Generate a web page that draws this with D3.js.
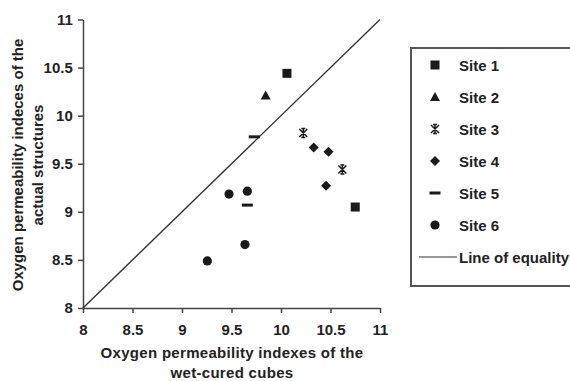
<!DOCTYPE html>
<html><head><meta charset="utf-8">
<script src="https://cdn.jsdelivr.net/npm/d3@7"></script>
<style>body{margin:0;background:#fff}svg{display:block}text{font-family:"Liberation Sans",Arial,sans-serif;font-weight:bold;fill:#222}</style>
</head><body>
<script>
const xTicks = [8, 8.5, 9, 9.5, 10, 10.5, 11];
const yTicks = [8, 8.5, 9, 9.5, 10, 10.5, 11];
const siteNames = ["Site 1","Site 2","Site 3","Site 4","Site 5","Site 6"];
const siteSymbols = ["square","triangle","star","diamond","dash","circle"];
const site1 = [[10.06,10.44],[10.75,9.05]];
const site2 = [[9.845,10.21]];
const site3 = [[10.225,9.82],[10.62,9.44]];
const site4 = [[10.33,9.67],[10.48,9.625],[10.455,9.27]];
const site5 = [[9.73,9.78],[9.66,9.07]];
const site6 = [[9.475,9.185],[9.66,9.215],[9.636,8.66],[9.256,8.49]];
const equality = [[8,8],[11,11]];
const sites = [site1,site2,site3,site4,site5,site6];

const W=570,H=381;
const svg=d3.select("body").append("svg").attr("width",W).attr("height",H);
const x=d3.scaleLinear().domain([8,11]).range([83,380]);
const y=d3.scaleLinear().domain([8,11]).range([308,19.5]);
const ink="#1a1a1a";

function drawSymbol(g,type,cx,cy){
  if(type==="square") g.append("rect").attr("x",cx-4.5).attr("y",cy-4.5).attr("width",9).attr("height",9).attr("fill",ink);
  else if(type==="triangle") g.append("path").attr("d",`M${cx},${cy-5}L${cx+5},${cy+4}L${cx-5},${cy+4}Z`).attr("fill",ink);
  else if(type==="diamond") g.append("path").attr("d",`M${cx},${cy-5}L${cx+5},${cy}L${cx},${cy+5}L${cx-5},${cy}Z`).attr("fill",ink);
  else if(type==="circle") g.append("circle").attr("cx",cx).attr("cy",cy).attr("r",4.6).attr("fill",ink);
  else if(type==="dash") g.append("rect").attr("x",cx-5.5).attr("y",cy-1.5).attr("width",11).attr("height",3).attr("fill",ink);
  else if(type==="star") g.append("path").attr("d",`M${cx-4},${cy-4}L${cx+4},${cy+4}M${cx+4},${cy-4}L${cx-4},${cy+4}M${cx-2},${cy-4.5}L${cx+2},${cy-4.5}M${cx-2},${cy+4.5}L${cx+2},${cy+4.5}M${cx},${cy-4.5}L${cx},${cy+4.5}`).attr("stroke",ink).attr("stroke-width",1.5).attr("fill","none");
}

// axes
const xAxis=d3.axisBottom(x).tickValues(xTicks).tickSize(5).tickSizeOuter(0).tickFormat(d3.format("~g"));
const yAxis=d3.axisLeft(y).tickValues(yTicks).tickSize(5).tickSizeOuter(0).tickFormat(d3.format("~g"));
const gx=svg.append("g").attr("transform","translate(0,308)").call(xAxis);
const gy=svg.append("g").attr("transform","translate(83,0)").call(yAxis);
[gx,gy].forEach(g=>{g.selectAll("path,line").attr("stroke","#444").attr("stroke-width",1.5);
  g.selectAll("text").style("font-size","15px").attr("fill","#222");});
gx.selectAll("text").attr("dy","1.25em");
gy.selectAll("text").attr("dx","-0.15em");

// equality line
svg.append("path").attr("d",d3.line().x(d=>x(d[0])).y(d=>y(d[1]))(equality)).attr("stroke","#333").attr("stroke-width",1.4).attr("fill","none");

// points
sites.forEach((s,i)=>{const g=svg.append("g");s.forEach(p=>drawSymbol(g,siteSymbols[i],x(p[0]),y(p[1])));});

// axis titles
const tfs="15px";
svg.append("text").attr("x",232).attr("y",358).attr("text-anchor","middle").style("font-size",tfs).style("letter-spacing","0.3px").text("Oxygen permeability indexes of the");
svg.append("text").attr("x",232).attr("y",378).attr("text-anchor","middle").style("font-size",tfs).style("letter-spacing","0.3px").text("wet-cured cubes");
svg.append("text").attr("transform","translate(23,165) rotate(-90)").attr("text-anchor","middle").style("font-size",tfs).text("Oxygen permeability indeces of the");
svg.append("text").attr("transform","translate(43,165) rotate(-90)").attr("text-anchor","middle").style("font-size",tfs).text("actual structures");

// legend
const lg=svg.append("g");
lg.append("rect").attr("x",411).attr("y",48).attr("width",170).attr("height",238).attr("fill","#fff").attr("stroke","#555").attr("stroke-width",2);
siteNames.forEach((n,i)=>{const cy=65+i*32; drawSymbol(lg,siteSymbols[i],435,cy);
  lg.append("text").attr("x",459).attr("y",cy+5.5).style("font-size","15px").text(n);});
lg.append("line").attr("x1",419).attr("x2",457).attr("y1",257).attr("y2",257).attr("stroke","#333").attr("stroke-width",1.2);
lg.append("text").attr("x",459).attr("y",262.5).style("font-size","15px").text("Line of equality");
</script>
</body></html>
